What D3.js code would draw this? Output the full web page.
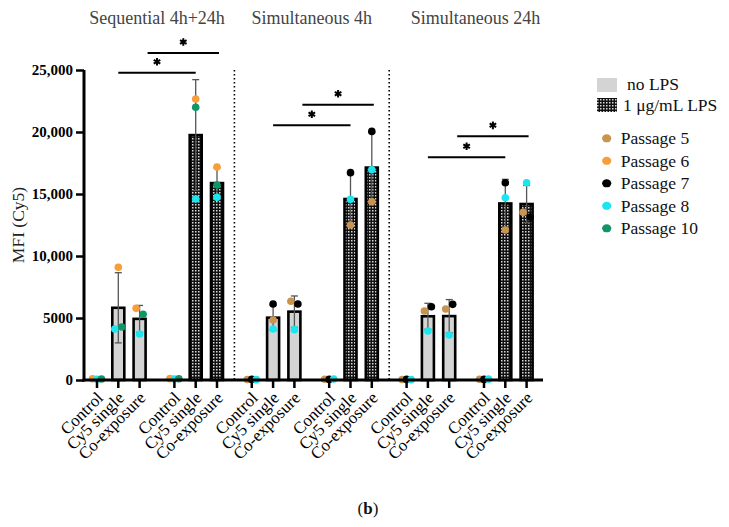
<!DOCTYPE html>
<html>
<head>
<meta charset="utf-8">
<script src="https://cdn.jsdelivr.net/npm/d3@7"></script>
<style>
  body { margin: 0; background: #fff; }
  svg text { font-family: "Liberation Serif", "DejaVu Serif", serif !important; }
</style>
</head>
<body>
<svg width="729" height="527"></svg>
<script>
var groupNames = ["Sequential 4h+24h", "Simultaneous 4h", "Simultaneous 24h"];
var treatments = ["Control", "Cy5 single", "Co-exposure"];
var lpsLabels = ["no LPS", "1 μg/mL LPS"];
var passageNames = ["Passage 5", "Passage 6", "Passage 7", "Passage 8", "Passage 10"];
var passageColors = ["#c8944f", "#f99d3b", "#000000", "#1de5ee", "#0f9567"];

// rows: Control, Cy5 single, Co-exposure (no LPS), then the same with LPS
var sequentialPassages = ["Passage 6", "Passage 8", "Passage 10"];
var sequentialValues = [
    [100, 60, 80],
    [9090, 4110, 4270],
    [5780, 3710, 5300],
    [110, 80, 100],
    [22660, 14600, 21990],
    [17180, 14730, 15730]
];
var sim4hPassages = ["Passage 5", "Passage 7", "Passage 8"];
var sim4hValues = [
    [40, 50, 30],
    [4840, 6130, 4110],
    [6350, 6130, 4060],
    [60, 50, 80],
    [12500, 16720, 14570],
    [14380, 20050, 16960]
];
var sim24hPassages = ["Passage 5", "Passage 7", "Passage 8"];
var sim24hValues = [
    [40, 50, 30],
    [5560, 5910, 3950],
    [5730, 6100, 3630],
    [60, 50, 70],
    [12100, 15910, 14700],
    [13520, 13150, 15910]
];
var sigPairs = [[1, 4], [2, 5]];
var sigHeights = [[24780, 26370], [20540, 22200], [17960, 19650]];
var yTicks = [0, 5000, 10000, 15000, 20000, 25000];

var svg = d3.select("svg");

// checker pattern for LPS bars
var pat = svg.append("defs").append("pattern")
    .attr("id", "checker").attr("patternUnits", "userSpaceOnUse")
    .attr("width", 3).attr("height", 3);
pat.append("rect").attr("width", 3).attr("height", 3).attr("fill", "#111");
pat.append("rect").attr("width", 1.5).attr("height", 1.5).attr("fill", "#d8d8d8");

var slot = i => i + Math.floor(i / 3) * 0.634;
var x = d3.scaleLinear().domain([0, slot(17)]).range([97, 526.6]);
var y = d3.scaleLinear().domain([0, 25000]).range([380, 70]);

var allGroups = [
    { passages: sequentialPassages, values: sequentialValues },
    { passages: sim4hPassages, values: sim4hValues },
    { passages: sim24hPassages, values: sim24hValues }
];

var bars = [];
allGroups.forEach(function(g, gi) {
    g.values.forEach(function(vals, k) {
        var i = gi * 6 + k;
        bars.push({
            i: i, group: gi, lps: k >= 3, label: treatments[k % 3],
            cx: x(slot(i)),
            mean: d3.mean(vals), sd: d3.deviation(vals),
            points: vals.map((v, j) => ({ passage: g.passages[j], value: v }))
        });
    });
});

// spread overlapping dots sideways
bars.forEach(function(b) {
    var pts = b.points.slice().sort((a, c) => c.value - a.value);
    var clusters = [], cur = [];
    pts.forEach(function(p) {
        if (cur.length && y(p.value) - y(cur[cur.length - 1].value) > 7) { clusters.push(cur); cur = []; }
        cur.push(p);
    });
    clusters.push(cur);
    clusters.forEach(function(c) {
        c.sort((a, d) => passageNames.indexOf(a.passage) - passageNames.indexOf(d.passage));
        var step = c.length > 2 ? 4.5 : 7;
        c.forEach((p, k) => p.dx = (k - (c.length - 1) / 2) * step);
    });
});

// dotted separators
[5.5, 11.5].forEach(function(s) {
    var sx = (x(slot(Math.floor(s))) + x(slot(Math.ceil(s)))) / 2;
    svg.append("line").attr("x1", sx).attr("x2", sx).attr("y1", 70).attr("y2", 380)
        .attr("stroke", "#000").attr("stroke-width", 1.6).attr("stroke-dasharray", "1.4,2.6");
});

// bars
svg.append("g").selectAll("rect").data(bars).enter().append("rect")
    .attr("x", d => d.cx - 6).attr("width", 12)
    .attr("y", d => y(d.mean)).attr("height", d => Math.max(0.5, y(0) - y(d.mean)))
    .attr("fill", d => d.lps ? "url(#checker)" : "#d4d4d4")
    .attr("stroke", "#000").attr("stroke-width", 2.6);

// error bars (mean ± SD)
var eb = svg.append("g").attr("stroke", "#555").attr("stroke-width", 1.3)
    .selectAll("g").data(bars).enter().append("g");
eb.append("line").attr("x1", d => d.cx).attr("x2", d => d.cx)
    .attr("y1", d => y(d.mean + d.sd)).attr("y2", d => y(Math.max(0, d.mean - d.sd)));
eb.append("line").attr("x1", d => d.cx - 3.5).attr("x2", d => d.cx + 3.5)
    .attr("y1", d => y(d.mean + d.sd)).attr("y2", d => y(d.mean + d.sd));
eb.append("line").attr("x1", d => d.cx - 3.5).attr("x2", d => d.cx + 3.5)
    .attr("y1", d => y(Math.max(0, d.mean - d.sd))).attr("y2", d => y(Math.max(0, d.mean - d.sd)));

// dots
svg.append("g").selectAll("g").data(bars).enter().append("g")
    .selectAll("circle").data(d => d.points.map(p => Object.assign({ cx: d.cx }, p)))
    .enter().append("circle")
    .attr("cx", d => d.cx + d.dx).attr("cy", d => y(d.value)).attr("r", 3.8)
    .attr("fill", d => passageColors[passageNames.indexOf(d.passage)]);

// axes
var yAxis = svg.append("g").attr("transform", "translate(84,0)")
    .call(d3.axisLeft(y).tickValues(yTicks).tickSize(8).tickPadding(3)
        .tickFormat(d => d >= 10000 ? d3.format(",")(d) : d));
yAxis.attr("font-family", null);
yAxis.select(".domain").attr("stroke-width", 3).attr("d", "M0,70V381.5");
yAxis.selectAll(".tick line").attr("stroke-width", 2.5);
yAxis.selectAll(".tick text").attr("font-size", 15)
    .attr("font-weight", "bold").attr("fill", "#000");

svg.append("line").attr("x1", 82.5).attr("x2", 543).attr("y1", 380).attr("y2", 380)
    .attr("stroke", "#000").attr("stroke-width", 3);
svg.append("g").selectAll("line").data(bars).enter().append("line")
    .attr("x1", d => d.cx).attr("x2", d => d.cx).attr("y1", 380).attr("y2", 388)
    .attr("stroke", "#000").attr("stroke-width", 2.5);
svg.append("g").selectAll("text").data(bars).enter().append("text")
    .attr("transform", d => "translate(" + (d.cx + 7) + ",399) rotate(-45)")
    .attr("text-anchor", "end").attr("font-size", 17).attr("fill", "#000")
    .text(d => d.label);

// significance brackets
allGroups.forEach(function(g, gi) {
    sigPairs.forEach(function(pr, k) {
        var x1 = x(slot(gi * 6 + pr[0])) + (k ? 8 : 0), x2 = x(slot(gi * 6 + pr[1])) + (k ? 2 : 0);
        var ly = y(sigHeights[gi][k]);
        svg.append("line").attr("x1", x1).attr("x2", x2).attr("y1", ly).attr("y2", ly)
            .attr("stroke", "#000").attr("stroke-width", 2);
        svg.append("path")
            .attr("transform", "translate(" + ((x1 + x2) / 2) + "," + (ly - 11) + ")")
            .attr("d", d3.symbol(d3.symbolAsterisk, 40)())
            .attr("stroke", "#000").attr("stroke-width", 2);
    });
});

// panel titles
var titleX = [0, 0, 9];
groupNames.forEach(function(t, gi) {
    var cx = (x(slot(gi * 6)) + x(slot(gi * 6 + 5))) / 2 + titleX[gi];
    svg.append("text").attr("x", cx).attr("y", 24).attr("text-anchor", "middle")
        .attr("font-size", 18).attr("fill", "#444").text(t);
});

// y label
svg.append("text").attr("transform", "translate(24,225) rotate(-90)")
    .attr("text-anchor", "middle").attr("font-size", 17.5).attr("fill", "#222").text("MFI (Cy5)");

// legend
var lg = svg.append("g");
lpsLabels.forEach(function(t, k) {
    lg.append("rect").attr("x", 597).attr("y", 78 + k * 20).attr("width", 20).attr("height", 14)
        .attr("fill", k ? "url(#checker)" : "#d4d4d4");
    lg.append("text").attr("x", k ? 623 : 627).attr("y", 90 + k * 21).attr("font-size", 17.5)
        .attr("fill", "#111").text(t);
});
passageNames.forEach(function(t, k) {
    var cy = 138.3 + k * 22.5;
    lg.append("ellipse").attr("cx", 606.7).attr("cy", cy).attr("rx", 4.6).attr("ry", 4)
        .attr("fill", passageColors[k]);
    lg.append("text").attr("x", 620.7).attr("y", cy + 6).attr("font-size", 17.5)
        .attr("fill", "#111").text(t);
});

// panel tag
var tag = svg.append("text").attr("x", 368).attr("y", 514).attr("text-anchor", "middle")
    .attr("font-size", 17).attr("fill", "#111");
tag.append("tspan").text("(");
tag.append("tspan").attr("font-weight", "bold").text("b");
tag.append("tspan").text(")");
</script>
</body>
</html>
